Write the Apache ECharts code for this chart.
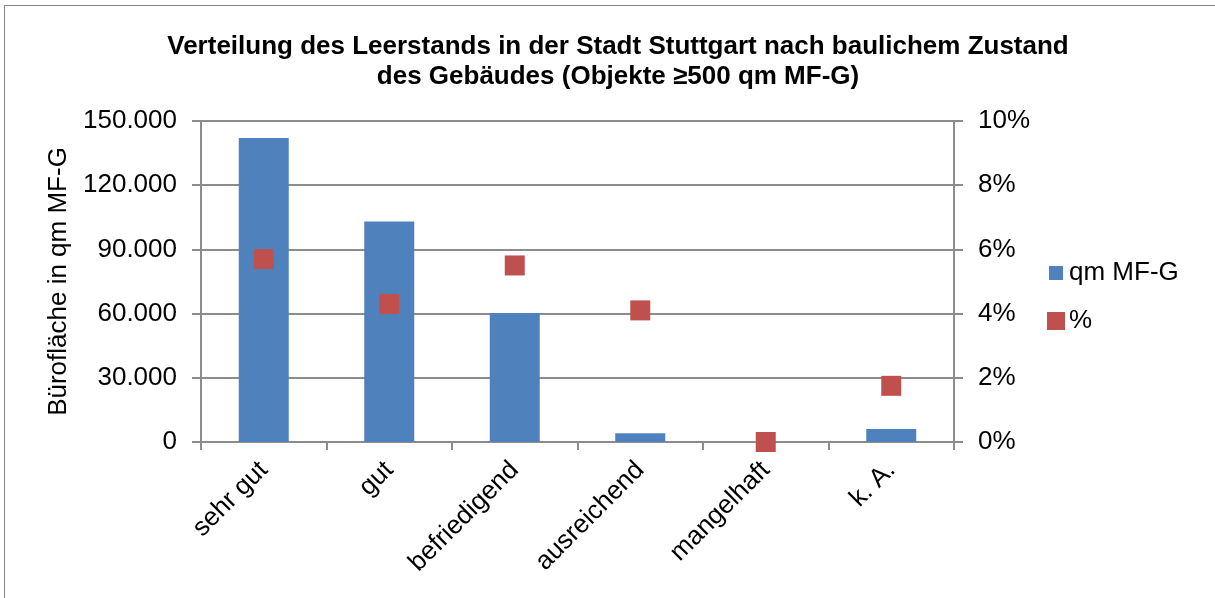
<!DOCTYPE html>
<html>
<head>
<meta charset="utf-8">
<script src="https://cdn.jsdelivr.net/npm/echarts@6/dist/echarts.min.js"></script>
<style>
  html, body { margin: 0; padding: 0; background: #fff; }
  #frame { position: absolute; left: 4px; top: 5px; width: 1220px; height: 600px; border: 1px solid #868686; box-sizing: border-box; }
  #chart { position: absolute; left: 0; top: 0; width: 1215px; height: 598px; }
</style>
</head>
<body>
<div id="frame"></div>
<div id="chart"></div>
<script>
// Kategorien und Werte
const categories = ['sehr gut', 'gut', 'befriedigend', 'ausreichend', 'mangelhaft', 'k. A.']
const flaeche = [142000, 103000, 60300, 4100, 0, 6100]
const prozent = [5.7, 4.3, 5.5, 4.1, 0, 1.75]

const axisGray = '#8c8c8c'
const fontFam = '"Liberation Sans", Arial, sans-serif'

// 150000 -> 150.000
const formatThousands = (v) => {
  return String(v).replace(/\B(?=(\d{3})+(?!\d))/g, '.')
}

const chart = echarts.init(document.getElementById('chart'))

const labelStyle = {
  fontSize: 26,
  color: '#000',
  fontFamily: fontFam,
}

const option = {
  backgroundColor: 'transparent',
  animation: false,
  textStyle: { fontFamily: fontFam },
  title: {
    text: 'Verteilung des Leerstands in der Stadt Stuttgart nach baulichem Zustand\ndes Gebäudes (Objekte ≥500 qm MF-G)',
    left: 613,
    top: 27,
    textAlign: 'center',
    textStyle: {
      fontFamily: fontFam,
      fontSize: 26,
      fontWeight: 'bold',
      color: '#000',
      lineHeight: 30,
    },
  },
  legend: [
    {
      orient: 'vertical',
      left: 1049,
      top: 260,
      padding: 0,
      itemWidth: 14,
      itemHeight: 14,
      itemGap: 6,
      textStyle: { ...labelStyle, padding: [0, 0, 0, 1] },
      data: [{ name: 'qm MF-G', icon: 'rect' }],
    },
    {
      orient: 'vertical',
      left: 1047,
      top: 308,
      padding: 0,
      itemWidth: 18,
      itemHeight: 18,
      textStyle: { ...labelStyle, padding: [0, 0, 0, -1] },
      data: [{ name: '%', icon: 'rect' }],
    },
  ],
  grid: {
    left: 201,
    right: 261,
    top: 121,
    bottom: 156,
  },
  xAxis: {
    type: 'category',
    data: categories,
    axisLine: { lineStyle: { color: axisGray, width: 2 } },
    axisTick: { show: true, alignWithLabel: false, length: 8, lineStyle: { color: axisGray, width: 2 } },
    axisLabel: {
      ...labelStyle,
      rotate: 45,
      margin: 24,
      interval: 0,
    },
  },
  yAxis: [
    {
      type: 'value',
      min: 0,
      max: 150000,
      interval: 30000,
      name: 'Bürofläche in qm MF-G',
      nameLocation: 'middle',
      nameGap: 124,
      nameRotate: 90,
      nameTextStyle: labelStyle,
      axisLine: { show: true, lineStyle: { color: axisGray, width: 2 } },
      axisTick: { show: true, length: 9, inside: false, lineStyle: { color: axisGray, width: 2 } },
      axisLabel: {
        ...labelStyle,
        margin: 24,
        formatter: (v) => formatThousands(v),
      },
      splitLine: { show: true, lineStyle: { color: axisGray, width: 2 } },
    },
    {
      type: 'value',
      min: 0,
      max: 10,
      interval: 2,
      position: 'right',
      axisLine: { show: true, lineStyle: { color: axisGray, width: 2 } },
      axisTick: { show: true, length: 9, lineStyle: { color: axisGray, width: 2 } },
      axisLabel: {
        ...labelStyle,
        margin: 24,
        formatter: (v) => v + '%',
      },
      splitLine: { show: false },
    },
  ],
  series: [
    {
      name: 'qm MF-G',
      type: 'bar',
      yAxisIndex: 0,
      data: flaeche,
      barWidth: 50,
      itemStyle: { color: '#4f81bd' },
    },
    {
      name: '%',
      type: 'scatter',
      yAxisIndex: 1,
      data: prozent,
      symbol: 'rect',
      symbolSize: 20,
      itemStyle: { color: '#c0504d', opacity: 1 },
      z: 5,
    },
  ],
}

chart.setOption(option)
</script>
</body>
</html>
